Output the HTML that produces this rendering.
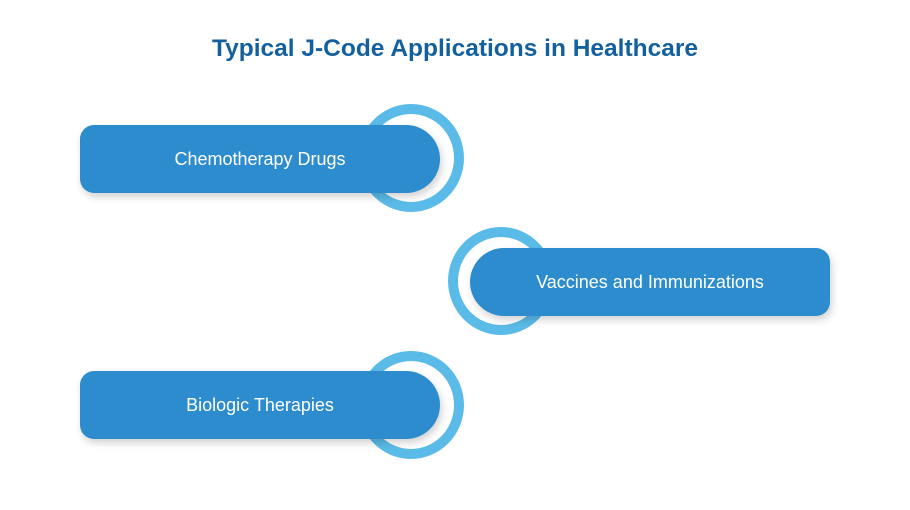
<!DOCTYPE html>
<html><head><style>
body{margin:0;width:910px;height:510px;background:#fff;font-family:"Liberation Sans",sans-serif;position:relative;overflow:hidden}
.t{position:absolute;top:35px;left:0;width:910px;text-align:center;color:#14609e;font-size:24.5px;font-weight:bold}
.c{position:absolute;width:86px;height:88px;border:10px solid #5bbbe8;border-radius:50%;background:#fff}
.p{position:absolute;width:360px;height:68px;background:#2c8ccd;color:#fff;font-size:18px;display:flex;align-items:center;justify-content:center;box-shadow:2px 4px 8px rgba(0,0,0,0.18)}
.l{border-radius:14px 34px 34px 14px}
.r{border-radius:34px 14px 14px 34px}
</style></head><body>
<div class="t">Typical J-Code Applications in Healthcare</div>
<div class="c" style="left:358px;top:104px"></div>
<div class="p l" style="left:80px;top:125px">Chemotherapy Drugs</div>
<div class="c" style="left:448px;top:227px"></div>
<div class="p r" style="left:470px;top:248px">Vaccines and Immunizations</div>
<div class="c" style="left:358px;top:351px"></div>
<div class="p l" style="left:80px;top:371px">Biologic Therapies</div>
</body></html>
